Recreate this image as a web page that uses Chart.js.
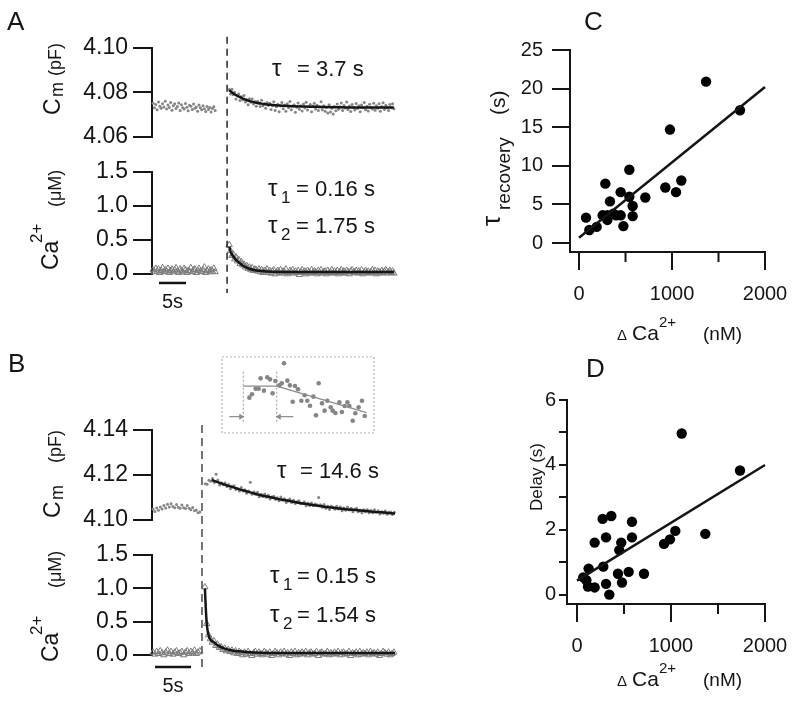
<!DOCTYPE html>
<html>
<head>
<meta charset="utf-8">
<script src="https://cdn.jsdelivr.net/npm/chart.js@4.4.1/dist/chart.umd.min.js"></script>
<style>
body { margin: 0; background: #fff; }
#wrap { position: relative; width: 800px; height: 709px; }
#wrap canvas { position: absolute; left: 0; top: 0; }
</style>
</head>
<body>
<div id="wrap">
<canvas id="cmA" width="800" height="709"></canvas>
<canvas id="caA" width="800" height="709"></canvas>
<canvas id="cmB" width="800" height="709"></canvas>
<canvas id="caB" width="800" height="709"></canvas>
<canvas id="inset" width="800" height="709"></canvas>
<canvas id="panC" width="800" height="709"></canvas>
<canvas id="panD" width="800" height="709"></canvas>
</div>
<script>
// ---- panel A: sampled traces (time in s, sampling step dtA) ----
var dtA = 0.25;
var cmBaseStartA = 0.2;
var cmBaseA = [4.0752, 4.0731, 4.0746, 4.0723, 4.0757, 4.0738, 4.0729, 4.0750, 4.0735, 4.0761,
    4.0726, 4.0744, 4.0733, 4.0755, 4.0720, 4.0741, 4.0749, 4.0728, 4.0737, 4.0753,
    4.0719, 4.0745, 4.0732, 4.0726, 4.0751, 4.0734, 4.0718, 4.0743, 4.0738, 4.0724,
    4.0748, 4.0729, 4.0735, 4.0716, 4.0744, 4.0731, 4.0722, 4.0740, 4.0727, 4.0715,
    4.0737, 4.0724, 4.0733, 4.0712, 4.0728, 4.0736, 4.0719];
var postStartA = 14.3;
var cmPostA = [4.0814, 4.0793, 4.0815, 4.0790, 4.0801, 4.0771, 4.0787, 4.0793, 4.0764, 4.0782,
    4.0767, 4.0786, 4.0757, 4.0767, 4.0745, 4.0772, 4.0756, 4.0771, 4.0748, 4.0760,
    4.0738, 4.0761, 4.0751, 4.0737, 4.0765, 4.0740, 4.0750, 4.0729, 4.0755, 4.0742,
    4.0752, 4.0724, 4.0741, 4.0758, 4.0719, 4.0736, 4.0747, 4.0713, 4.0739, 4.0755,
    4.0727, 4.0744, 4.0716, 4.0749, 4.0731, 4.0760, 4.0722, 4.0738, 4.0745, 4.0711,
    4.0734, 4.0753, 4.0725, 4.0741, 4.0717, 4.0748, 4.0730, 4.0756, 4.0721, 4.0737,
    4.0746, 4.0714, 4.0739, 4.0752, 4.0726, 4.0743, 4.0719, 4.0735, 4.0758, 4.0723,
    4.0740, 4.0716, 4.0733, 4.0708, 4.0745, 4.0712, 4.0729, 4.0703, 4.0737, 4.0718,
    4.0748, 4.0725, 4.0736, 4.0753, 4.0719, 4.0742, 4.0730, 4.0757, 4.0724, 4.0739,
    4.0715, 4.0746, 4.0733, 4.0721, 4.0751, 4.0728, 4.0740, 4.0713, 4.0744, 4.0731,
    4.0755, 4.0722, 4.0738, 4.0717, 4.0747, 4.0733, 4.0726, 4.0752, 4.0720, 4.0741,
    4.0729, 4.0749, 4.0716, 4.0737, 4.0754, 4.0724, 4.0743, 4.0731, 4.0719, 4.0746,
    4.0732, 4.0750, 4.0727];
var cmFitTA = [14.3, 15.3, 16.3, 17.3, 18.3, 19.3, 20.3, 21.3, 22.3, 23.3, 24.3, 26.3, 28.3, 30.3, 34.3, 38.3, 44.8];
var cmFitA = [4.0810, 4.0792, 4.0779, 4.0768, 4.0760, 4.0754, 4.0750, 4.0746, 4.0744, 4.0742, 4.0740, 4.0738, 4.0737, 4.0736, 4.0734, 4.0733, 4.0733];

var caBaseA = [0.06, 0.03, 0.08, 0.04, 0.07, 0.02, 0.05, 0.09, 0.03, 0.06,
    0.04, 0.08, 0.02, 0.05, 0.07, 0.03, 0.06, 0.09, 0.04, 0.02,
    0.07, 0.05, 0.03, 0.08, 0.06, 0.02, 0.05, 0.04, 0.09, 0.03,
    0.06, 0.07, 0.02, 0.05, 0.08, 0.04, 0.03, 0.06, 0.10, 0.02,
    0.05, 0.07, 0.03, 0.06, 0.04, 0.08, 0.03];
var caPostA = [0.43, 0.34, 0.27, 0.29, 0.22, 0.25, 0.19, 0.21, 0.15, 0.18,
    0.13, 0.14, 0.10, 0.12, 0.08, 0.10, 0.06, 0.09, 0.05, 0.07,
    0.06, 0.04, 0.07, 0.03, 0.06, 0.02, 0.05, 0.04, 0.07, 0.02,
    0.05, 0.01, 0.04, 0.06, 0.00, 0.03, 0.05, 0.02, 0.06, 0.01,
    0.04, 0.03, 0.07, 0.00, 0.02, 0.05, 0.03, 0.06, 0.01, 0.04,
    0.02, 0.05, -0.01, 0.03, 0.06, 0.02, 0.04, 0.00, 0.05, 0.03,
    0.01, 0.06, 0.02, 0.04, 0.03, 0.00, 0.05, 0.02, 0.06, 0.01,
    0.03, 0.04, 0.00, 0.05, 0.02, 0.03, 0.06, 0.01, 0.04, 0.02,
    0.05, 0.00, 0.03, 0.06, 0.02, 0.04, 0.01, 0.05, 0.03, 0.00,
    0.04, 0.06, 0.02, 0.03, 0.05, 0.01, 0.04, 0.02, 0.06, 0.00,
    0.03, 0.05, 0.02, 0.04, 0.01, 0.03, 0.06, 0.02, 0.05, 0.00,
    0.04, 0.03, 0.01, 0.05, 0.02, 0.04, 0.06, 0.01, 0.03, 0.05,
    0.02, 0.04, 0.01];
var caFitTA = [14.3, 14.55, 14.8, 15.05, 15.3, 15.8, 16.3, 16.8, 17.3, 17.8, 18.3, 19.3, 20.3, 21.3, 22.3, 24.3, 28.3, 44.8];
var caFitA = [0.40, 0.33, 0.29, 0.26, 0.23, 0.19, 0.155, 0.125, 0.10, 0.085, 0.07, 0.053, 0.043, 0.037, 0.034, 0.031, 0.030, 0.030];

var cmTicksA = [4.06, 4.08, 4.10];
var caTicks = [0, 0.5, 1.0, 1.5];
var flashA = 13.9;
var barA = [1.3, 6.3];

// ---- panel B ----
var dtB = 0.25;
var cmBaseStartB = 0.15;
var cmBaseB = [4.1049, 4.1038, 4.1053, 4.1043, 4.1058, 4.1049, 4.1064, 4.1053, 4.1070, 4.1058,
    4.1072, 4.1060, 4.1055, 4.1069, 4.1057, 4.1052, 4.1067, 4.1055, 4.1051, 4.1064,
    4.1052, 4.1046, 4.1056, 4.1041, 4.1044, 4.1032, 4.1036];
var cmPostStartB = 7.4;
var cmPostB = [4.1161, 4.1159, 4.1177, 4.1172, 4.1185, 4.1167, 4.1203, 4.1178, 4.1156, 4.1166,
    4.1157, 4.1164, 4.1149, 4.1158, 4.1139, 4.1150, 4.1152, 4.1136, 4.1140, 4.1129,
    4.1144, 4.1129, 4.1135, 4.1119, 4.1129, 4.1168, 4.1114, 4.1125, 4.1115, 4.1123,
    4.1103, 4.1114, 4.1104, 4.1116, 4.1101, 4.1110, 4.1093, 4.1102, 4.1106, 4.1091,
    4.1099, 4.1086, 4.1102, 4.1088, 4.1094, 4.1078, 4.1089, 4.1093, 4.1078, 4.1088,
    4.1073, 4.1081, 4.1086, 4.1072, 4.1073, 4.1080, 4.1063, 4.1075, 4.1064, 4.1076,
    4.1064, 4.1071, 4.1068, 4.1100, 4.1068, 4.1057, 4.1069, 4.1052, 4.1061, 4.1047,
    4.1061, 4.1056, 4.1048, 4.1061, 4.1049, 4.1058, 4.1041, 4.1053, 4.1043, 4.1058,
    4.1045, 4.1052, 4.1037, 4.1047, 4.1052, 4.1037, 4.1044, 4.1032, 4.1046, 4.1037,
    4.1046, 4.1032, 4.1042, 4.1032, 4.1046, 4.1034, 4.1041, 4.1027, 4.1037, 4.1030,
    4.1040, 4.1026, 4.1034, 4.1036, 4.1024, 4.1034];
var cmFitTB = [8.3, 9.3, 10.3, 11.3, 12.3, 13.3, 14.3, 15.3, 16.3, 17.3, 18.3, 19.3, 20.3, 21.3,
    22.3, 23.3, 24.3, 25.3, 26.3, 27.3, 28.3, 29.3, 30.3, 31.3, 32.3, 33.3, 33.75];
var cmFitB = [4.1178, 4.1166, 4.1155, 4.1145, 4.1135, 4.1126, 4.1117, 4.1109, 4.1102, 4.1095, 4.1089, 4.1083, 4.1077, 4.1072,
    4.1067, 4.1062, 4.1058, 4.1054, 4.1050, 4.1047, 4.1044, 4.1041, 4.1038, 4.1035, 4.1033, 4.1030, 4.1029];

var caBaseB = [0.04, 0.01, 0.05, 0.02, 0.06, 0.03, 0.00, 0.04, 0.07, 0.02,
    0.05, 0.01, 0.04, 0.06, 0.02, 0.03, 0.05, 0.00, 0.04, 0.06,
    0.02, 0.05, 0.03, 0.07, 0.02, 0.04, 0.06];
var caPostStartB = 7.35;
var caPostB = [1.02, 0.47, 0.30, 0.24, 0.19, 0.21, 0.14, 0.16, 0.11, 0.12,
    0.08, 0.10, 0.06, 0.08, 0.05, 0.07, 0.03, 0.06, 0.02, 0.05,
    0.03, 0.00, 0.04, 0.01, 0.05, 0.02, -0.01, 0.03, 0.05, 0.01,
    0.04, 0.02, 0.00, 0.05, 0.03, 0.01, 0.04, -0.01, 0.02, 0.05,
    0.03, 0.00, 0.04, 0.02, 0.05, 0.01, 0.03, -0.01, 0.04, 0.02,
    0.05, 0.00, 0.03, 0.01, 0.04, 0.02, 0.05, 0.00, 0.03, 0.04,
    0.01, 0.02, 0.05, -0.01, 0.03, 0.04, 0.01, 0.02, 0.05, 0.00,
    0.03, 0.01, 0.04, 0.02, 0.05, 0.00, 0.03, 0.04, 0.01, 0.02,
    0.05, -0.01, 0.03, 0.02, 0.04, 0.00, 0.05, 0.01, 0.03, 0.02,
    0.04, 0.00, 0.05, 0.02, 0.03, 0.01, 0.04, -0.01, 0.02, 0.05,
    0.03, 0.01, 0.04, 0.00, 0.02, 0.04];
var caFitTB = [7.35, 7.45, 7.55, 7.7, 7.9, 8.2, 8.6, 9.2, 10, 11, 12, 13.5, 15, 18, 33.75];
var caFitB = [1.00, 0.75, 0.55, 0.38, 0.28, 0.22, 0.19, 0.14, 0.10, 0.07, 0.055, 0.04, 0.033, 0.03, 0.03];

var cmTicksB = [4.10, 4.12, 4.14];
var flashB = 6.94;
var barB = [0.42, 5.42];

// ---- inset of B (relative units) ----
var insetX = [18.0, 19.7, 22.1, 24.1, 25.4, 27.6, 29.8, 31.6, 33.3, 35.1, 37.7, 39.3, 40.8, 43.0, 44.7,
    48.0, 50.0, 46.5, 52.2, 54.4, 56.1, 57.9, 60.1, 61.8, 63.6, 65.8, 67.5, 69.3, 71.5, 72.8,
    74.6, 77.2, 78.9, 80.7, 82.5, 83.8, 86.0, 87.7, 89.9, 92.1, 93.9];
var insetY = [46.5, 50.9, 58.3, 58.3, 71.9, 55.7, 73.2, 70.6, 52.2, 68.4, 62.7, 65.4, 91.7, 68.9, 62.7,
    61.8, 57.5, 41.2, 42.5, 49.6, 42.5, 35.9, 47.8, 23.2, 65.4, 39.0, 29.4, 42.5, 33.8, 29.4,
    26.3, 40.4, 27.6, 35.5, 40.4, 35.5, 16.2, 25.9, 33.8, 42.5, 22.4];
var insetFitX = [14.0, 36.0, 95.2];
var insetFitY = [61.8, 61.8, 26.8];
var insetMarks = [14.0, 36.0];
var insetMarkY = [14.9, 82.9];
var arrowLeftX = [4.8, 12.5];
var arrowRightX = [46.9, 37.5];
var arrowY = 21.5;

// ---- panel C ----
var dCaC = [1366, 1731, 978, 541, 283, 448, 333, 541, 713, 928, 1100, 1043, 577, 577, 477, 448, 398, 305, 305, 254, 190, 111, 75, 369];
var tauC = [20.9, 17.2, 14.7, 9.5, 7.7, 6.6, 5.4, 6.0, 5.9, 7.2, 8.1, 6.6, 4.8, 3.5, 2.2, 3.6, 3.6, 3.6, 3.0, 3.6, 2.1, 1.7, 3.3, 3.8];
var fitCX = [0, 2000];
var fitCY = [0.7, 20.2];
var cYTicks = [0, 5, 10, 15, 20, 25];

// ---- panel D ----
var dCaD = [1114, 1734, 1365, 1046, 989, 926, 273, 365, 585, 585, 309, 471, 450, 280, 436, 550, 713, 479, 309, 344, 188, 124, 67, 117, 188, 100];
var delayD = [4.97, 3.83, 1.88, 1.97, 1.71, 1.57, 2.34, 2.43, 2.25, 1.77, 1.77, 1.61, 1.38, 0.87, 0.65, 0.71, 0.65, 0.38, 0.34, 0.01, 1.61, 0.81, 0.54, 0.26, 0.23, 0.45];
var fitDX = [0, 2000];
var fitDY = [0.44, 4.0];
var dYTicks = [0, 1, 2, 3, 4, 5, 6];
var dYLabels = [0, 2, 4, 6];

var xTicksCD = [0, 500, 1000, 1500, 2000];
var xLabelsCD = [0, 1000, 2000];

var FONT = '"Liberation Sans", Arial, Helvetica, sans-serif';
var INK = '#151515';
var DOT = '#858585';
Chart.defaults.font.family = FONT;
Chart.defaults.color = INK;

function series(t0, dt, vals) {
    return vals.map(function (v, i) { return { x: t0 + i * dt, y: v }; });
}
function pairs(xs, ys) {
    return xs.map(function (x, i) { return { x: x, y: ys[i] }; });
}

// chart area given in page pixels [left, top, right, bottom]
function pad(area, yw, xh) {
    return { left: area[0] - yw, top: area[1], right: 800 - area[2], bottom: 709 - area[3] - xh };
}

function put(ctx, s, x, y, size, rot, align) {
    ctx.save();
    ctx.font = size + 'px ' + FONT;
    ctx.fillStyle = INK;
    ctx.textBaseline = 'alphabetic';
    ctx.textAlign = align || 'left';
    ctx.translate(x, y);
    if (rot) ctx.rotate(-Math.PI / 2);
    ctx.fillText(s, 0, 0);
    ctx.restore();
}

function traceY(min, max, ticks, dec) {
    return {
        min: min, max: max,
        afterFit: function (s) { s.width = 80; },
        afterBuildTicks: function (s) { s.ticks = ticks.map(function (v) { return { value: v }; }); },
        ticks: { autoSkip: false, font: { size: 23 }, color: INK, padding: 5,
            callback: function (v) { return Number(v).toFixed(dec); } },
        grid: { drawOnChartArea: false, tickLength: 19, lineWidth: 2, color: INK },
        border: { width: 2, color: INK }
    };
}

function dots(data) {
    return { data: data, pointRadius: 1.5, pointBackgroundColor: DOT, pointBorderWidth: 0, order: 2, clip: false };
}
function tris(data) {
    return { data: data, pointStyle: 'triangle', pointRadius: 3.6, pointBorderColor: '#7a7a7a',
        pointBackgroundColor: 'rgba(0,0,0,0)', pointBorderWidth: 1, order: 2, clip: false };
}
function fit(data, w) {
    return { data: data, showLine: true, borderColor: INK, borderWidth: w || 2.5, pointRadius: 0,
        cubicInterpolationMode: 'monotone', order: 0, clip: false };
}
function seg(data, w, dash, color) {
    return { data: data, showLine: true, borderColor: color || INK, borderWidth: w, borderDash: dash || [],
        pointRadius: 0, order: 1, clip: false };
}

function traceChart(id, area, xMax, yAxis, datasets, plugins) {
    return new Chart(document.getElementById(id), {
        type: 'scatter',
        data: { datasets: datasets },
        options: {
            responsive: false, animation: false, devicePixelRatio: 1,
            layout: { padding: pad(area, 80, 0) },
            plugins: { legend: { display: false }, tooltip: { enabled: false } },
            scales: { x: { type: 'linear', display: false, min: 0, max: xMax }, y: yAxis }
        },
        plugins: plugins || []
    });
}

function barLabel(t, y) {
    return {
        id: 'barLabel',
        afterDraw: function (chart) {
            var xs = chart.scales.x;
            put(chart.ctx, '5s', xs.getPixelForValue(t), y, 20, false, 'center');
        }
    };
}

// ---- A ----
traceChart('cmA', [152, 48, 395, 137], 45, traceY(4.06, 4.10, cmTicksA, 2), [
    fit(pairs(cmFitTA, cmFitA)),
    dots(series(cmBaseStartA, dtA, cmBaseA)),
    dots(series(postStartA, dtA, cmPostA))
]);
traceChart('caA', [152, 172, 395, 274], 45, traceY(0, 1.5, caTicks, 1), [
    fit(pairs(caFitTA, caFitA)),
    tris(series(cmBaseStartA, dtA, caBaseA)),
    tris(series(postStartA, dtA, caPostA)),
    seg(pairs([flashA, flashA], [3.49, -0.28]), 1.4, [7, 5]),
    seg(pairs(barA, [-0.132, -0.132]), 2.5)
], [barLabel((barA[0] + barA[1]) / 2, 308)]);

// ---- B ----
traceChart('cmB', [152, 430, 395, 520], 33.75, traceY(4.10, 4.14, cmTicksB, 2), [
    fit(pairs(cmFitTB, cmFitB)),
    dots(series(cmBaseStartB, dtB, cmBaseB)),
    dots(series(cmPostStartB, dtB, cmPostB))
]);
traceChart('caB', [152, 555, 395, 655], 33.75, traceY(0, 1.5, caTicks, 1), [
    fit(pairs(caFitTB, caFitB)),
    tris(series(cmBaseStartB, dtB, caBaseB)),
    tris(series(caPostStartB, dtB, caPostB)),
    seg(pairs([flashB, flashB], [3.45, -0.18]), 1.8, [8, 5], '#666'),
    seg(pairs(barB, [-0.18, -0.18]), 2.5)
], [barLabel((barB[0] + barB[1]) / 2, 692)]);

// ---- inset ----
function arrow(xs, rot) {
    return { data: pairs(xs, [arrowY, arrowY]), showLine: true, borderColor: '#8a8a8a', borderWidth: 1.2,
        pointStyle: 'triangle', pointRadius: [0, 3.5], pointRotation: rot, pointBackgroundColor: '#8a8a8a',
        pointBorderColor: '#8a8a8a', pointBorderWidth: 0, clip: false };
}
new Chart(document.getElementById('inset'), {
    type: 'scatter',
    data: { datasets: [
        { data: pairs(insetFitX, insetFitY), showLine: true, borderColor: '#8a8a8a', borderWidth: 1.3, pointRadius: 0, clip: false },
        { data: pairs(insetX, insetY), pointRadius: 2.3, pointBackgroundColor: DOT, pointBorderWidth: 0, clip: false },
        seg(pairs([insetMarks[0], insetMarks[0]], insetMarkY), 1, [2, 2], '#999'),
        seg(pairs([insetMarks[1], insetMarks[1]], insetMarkY), 1, [2, 2], '#999'),
        arrow(arrowLeftX, 90),
        arrow(arrowRightX, -90)
    ] },
    options: {
        responsive: false, animation: false, devicePixelRatio: 1,
        layout: { padding: pad([222, 357, 374, 433], 0, 0) },
        plugins: { legend: { display: false }, tooltip: { enabled: false } },
        scales: { x: { display: false, min: 0, max: 100 }, y: { display: false, min: 0, max: 100 } }
    },
    plugins: [{
        id: 'frame',
        beforeDatasetsDraw: function (chart) {
            var a = chart.chartArea, ctx = chart.ctx;
            ctx.save();
            ctx.strokeStyle = '#b0b0b0';
            ctx.lineWidth = 1.2;
            ctx.setLineDash([2, 2]);
            ctx.strokeRect(a.left, a.top, a.right - a.left, a.bottom - a.top);
            ctx.restore();
        }
    }]
});

// ---- C and D ----
function minorTicks(list, len) {
    return {
        id: 'minorTicks',
        afterDraw: function (chart) {
            var xs = chart.scales.x, ctx = chart.ctx;
            ctx.save();
            ctx.strokeStyle = INK;
            ctx.lineWidth = 2;
            list.forEach(function (v) {
                if (xLabelsCD.indexOf(v) >= 0) return;
                var px = xs.getPixelForValue(v);
                ctx.beginPath();
                ctx.moveTo(px, xs.top);
                ctx.lineTo(px, xs.top + len);
                ctx.stroke();
            });
            ctx.restore();
        }
    };
}

function scatterChart(id, area, xMin, yMin, yMax, yTicks, yLabels, yTickLen, yPad, xs, ys, fx, fy, extra) {
    return new Chart(document.getElementById(id), {
        type: 'scatter',
        data: { datasets: [
            { data: pairs(fx, fy), showLine: true, borderColor: INK, borderWidth: 2.5, pointRadius: 0, clip: false },
            { data: pairs(xs, ys), pointRadius: 5.2, pointBackgroundColor: '#000', pointBorderWidth: 0, clip: false }
        ] },
        options: {
            responsive: false, animation: false, devicePixelRatio: 1,
            layout: { padding: pad(area, 60, 60) },
            plugins: { legend: { display: false }, tooltip: { enabled: false } },
            scales: {
                x: {
                    type: 'linear', min: xMin, max: 2000,
                    afterFit: function (s) { s.height = 60; },
                    afterBuildTicks: function (s) { s.ticks = xTicksCD.map(function (v) { return { value: v }; }); },
                    ticks: { autoSkip: false, maxRotation: 0, font: { size: 20 }, color: INK, padding: 12,
                        callback: function (v) { return xLabelsCD.indexOf(v) >= 0 ? String(v) : ''; } },
                    grid: { drawOnChartArea: false, tickLength: 18, lineWidth: 2, color: INK,
                        tickColor: function (c) { return (c.tick && xLabelsCD.indexOf(c.tick.value) < 0) ? 'rgba(0,0,0,0)' : INK; } },
                    border: { width: 2, color: INK }
                },
                y: {
                    min: yMin, max: yMax,
                    afterFit: function (s) { s.width = 60; },
                    afterBuildTicks: function (s) { s.ticks = yTicks.map(function (v) { return { value: v }; }); },
                    ticks: { autoSkip: false, font: { size: 20 }, color: INK, padding: yPad,
                        callback: function (v) { return yLabels.indexOf(v) >= 0 ? String(v) : ''; } },
                    grid: { drawOnChartArea: false, tickLength: yTickLen, lineWidth: 2, color: INK },
                    border: { width: 2, color: INK }
                }
            }
        },
        plugins: [minorTicks(xTicksCD, 10)].concat(extra || [])
    });
}

scatterChart('panC', [570, 50, 765, 252], -97, -1.15, 25, cYTicks, cYTicks, 18, 9, dCaC, tauC, fitCX, fitCY);

var decor = {
    id: 'decor',
    afterDraw: function (chart) {
        var c = chart.ctx;
        put(c, 'A', 7, 30, 26);
        put(c, 'B', 8, 372, 26);
        put(c, 'C', 584, 30, 26);
        put(c, 'D', 586, 377, 26);

        // trace axis titles
        put(c, 'C', 60, 115, 23, true);
        put(c, 'm', 63, 97, 18, true);
        put(c, '(pF)', 61, 76, 18, true);
        put(c, 'Ca', 58, 270, 23, true);
        put(c, '2+', 42, 243, 17, true);
        put(c, '(\u03bcM)', 61, 207, 18, true);
        put(c, 'C', 60, 518, 23, true);
        put(c, 'm', 63, 500, 18, true);
        put(c, '(pF)', 61, 463, 18, true);
        put(c, 'Ca', 58, 662, 23, true);
        put(c, '2+', 42, 635, 17, true);
        put(c, '(\u03bcM)', 61, 588, 18, true);

        // time constants
        put(c, '\u03c4', 272, 76, 24);
        put(c, '= 3.7 s', 297, 76, 22);
        put(c, '\u03c4', 268, 196, 24);
        put(c, '1', 281, 203, 17);
        put(c, '= 0.16 s', 296, 196, 22);
        put(c, '\u03c4', 268, 233, 24);
        put(c, '2', 281, 240, 17);
        put(c, '= 1.75 s', 296, 233, 22);
        put(c, '\u03c4', 277, 478, 24);
        put(c, '= 14.6 s', 300, 478, 22);
        put(c, '\u03c4', 270, 583, 24);
        put(c, '1', 283, 590, 17);
        put(c, '= 0.15 s', 297, 583, 22);
        put(c, '\u03c4', 270, 622, 24);
        put(c, '2', 283, 629, 17);
        put(c, '= 1.54 s', 297, 622, 22);

        // C / D axis titles
        put(c, '\u03c4', 500, 226, 26, true);
        put(c, 'recovery', 510, 210, 19, true);
        put(c, '(s)', 505, 115, 21, true);
        put(c, 'Delay (s)', 542, 511, 17, true);
        [340, 686].forEach(function (y) {
            put(c, '\u0394', 617, y, 15);
            put(c, 'Ca', 632, y, 21);
            put(c, '2+', 659, y - 13, 15);
            put(c, '(nM)', 703, y, 19);
        });
    }
};

scatterChart('panD', [567, 400, 765, 604], -106, -0.28, 6, dYTicks, dYLabels, 8, 3, dCaD, delayD, fitDX, fitDY, [decor]);
</script>
</body>
</html>
